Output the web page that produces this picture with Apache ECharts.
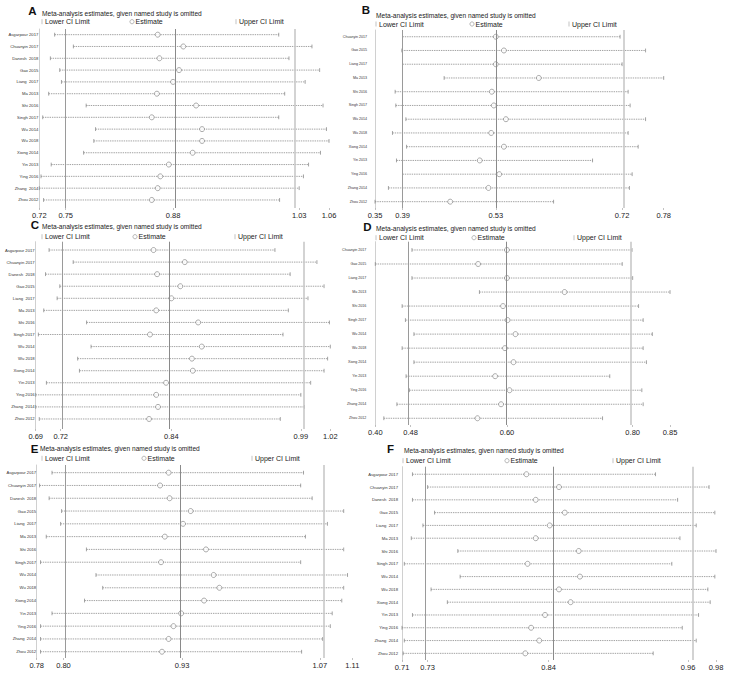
<!DOCTYPE html>
<html><head><meta charset="utf-8">
<script src="https://cdn.jsdelivr.net/npm/echarts@6/dist/echarts.min.js"></script>
<style>html,body{margin:0;padding:0;background:#fff}#c{width:731px;height:681px}</style>
</head><body><div id="c"></div>
<script>
// ---------- DATA ----------
const studies15 = ["Asgarpour 2017","Chuanyin 2017","Danesh\u00a0 2018","Gao 2015","Liang\u00a0 2017","Ma 2013","Shi 2016","Singh 2017","Wu 2014","Wu 2018","Xiong 2014","Yin 2013","Ying 2016","Zhang\u00a0 2014","Zhou 2012"];
const studies13 = ["Chuanyin 2017","Gao 2015","Liang 2017","Ma 2013","Shi 2016","Singh 2017","Wu 2014","Wu 2018","Xiong 2014","Yin 2013","Ying 2016","Zhang 2014","Zhou 2012"];

const lowerA = [0.738,0.760,0.733,0.744,0.746,0.731,0.775,0.724,0.786,0.784,0.772,0.734,0.722,0.720,0.725];
const estA   = [0.859,0.889,0.861,0.884,0.877,0.858,0.904,0.852,0.911,0.911,0.900,0.872,0.862,0.859,0.852];
const upperA = [1.001,1.040,1.013,1.049,1.032,1.008,1.053,1.001,1.057,1.060,1.050,1.036,1.030,1.025,1.002];
const ticksA = [0.720,0.751,0.877,1.025,1.060];
const tickLabelsA = ["0.72","0.75","0.88","1.03","1.06"];

const lowerB = [0.391,0.390,0.391,0.453,0.380,0.381,0.396,0.376,0.397,0.382,0.391,0.370,0.350];
const estB   = [0.530,0.542,0.530,0.594,0.524,0.527,0.545,0.523,0.542,0.506,0.535,0.519,0.462];
const upperB = [0.715,0.753,0.718,0.780,0.727,0.730,0.753,0.727,0.742,0.674,0.733,0.729,0.616];
const ticksB = [0.350,0.391,0.530,0.718,0.780];
const tickLabelsB = ["0.35","0.39","0.53","0.72","0.78"];

const lowerC = [0.705,0.732,0.701,0.717,0.714,0.699,0.747,0.693,0.752,0.737,0.739,0.702,0.690,0.690,0.694];
const estC   = [0.822,0.857,0.826,0.852,0.842,0.825,0.872,0.818,0.876,0.865,0.866,0.836,0.825,0.827,0.817];
const upperC = [0.958,1.005,0.975,1.013,0.995,0.973,1.019,0.967,1.020,1.017,1.013,0.998,0.987,0.991,0.964];
const ticksC = [0.690,0.718,0.842,0.987,1.020];
const tickLabelsC = ["0.69","0.72","0.84","0.99","1.02"];

const lowerD = [0.456,0.400,0.456,0.559,0.441,0.446,0.459,0.441,0.459,0.447,0.452,0.433,0.413];
const estD   = [0.601,0.557,0.601,0.689,0.595,0.602,0.614,0.598,0.611,0.583,0.605,0.592,0.556];
const upperD = [0.792,0.777,0.793,0.850,0.802,0.809,0.823,0.809,0.814,0.758,0.807,0.809,0.747];
const ticksD = [0.400,0.454,0.601,0.793,0.850];
const tickLabelsD = ["0.40","0.48","0.60","0.80","0.85"];

const lowerE = [0.796,0.783,0.793,0.806,0.805,0.790,0.832,0.784,0.842,0.849,0.830,0.796,0.784,0.784,0.784];
const estE   = [0.918,0.909,0.919,0.941,0.933,0.914,0.957,0.910,0.965,0.971,0.955,0.931,0.923,0.918,0.911];
const upperE = [1.059,1.056,1.068,1.101,1.084,1.061,1.101,1.056,1.105,1.101,1.099,1.089,1.087,1.079,1.057];
const ticksE = [0.780,0.808,0.932,1.076,1.110];
const tickLabelsE = ["0.78","0.80","0.93","1.07","1.11"];

const lowerF = [0.719,0.732,0.719,0.738,0.728,0.718,0.758,0.712,0.760,0.735,0.749,0.719,0.710,0.712,0.711];
const estF   = [0.817,0.845,0.825,0.850,0.837,0.825,0.862,0.818,0.863,0.845,0.855,0.833,0.821,0.828,0.816];
const upperF = [0.928,0.974,0.947,0.979,0.963,0.949,0.980,0.942,0.979,0.973,0.975,0.965,0.951,0.963,0.926];
const ticksF = [0.710,0.732,0.836,0.956,0.980];
const tickLabelsF = ["0.71","0.73","0.84","0.96","0.98"];

const titleText = "Meta-analysis estimates, given named study is omitted";
const legendLabels = ["Lower CI Limit","Estimate","Upper CI Limit"];

// ---------- LAYOUT ----------
const panels = [
  {id:"A", studies:studies15, lower:lowerA, est:estA, upper:upperA, ticks:ticksA, tl:tickLabelsA,
   L:{left:39.3, top:29, width:289.7, height:179, yMin:0.52, yMax:15.68, letter:[32.5,10.5], title:[42,13], legY:21.7, legX:[42,132,236], yLabMargin:1, yLabSize:4.2}},
  {id:"B", studies:studies13, lower:lowerB, est:estB, upper:upperB, ticks:ticksB, tl:tickLabelsB,
   L:{left:375, top:30, width:288.7, height:178, yMin:0.51, yMax:13.46, letter:[366,10], title:[376,15], legY:24, legX:[376,472,569], yLabMargin:8, yLabSize:3.6}},
  {id:"C", studies:studies15, lower:lowerC, est:estC, upper:upperC, ticks:ticksC, tl:tickLabelsC,
   L:{left:35.7, top:241.7, width:294.6, height:187.3, yMin:0.31, yMax:15.83, letter:[35,225], title:[42,226.7], legY:236.7, legX:[42,135,235], yLabMargin:1, yLabSize:4.2}},
  {id:"D", studies:studies13, lower:lowerD, est:estD, upper:upperD, ticks:ticksD, tl:tickLabelsD,
   L:{left:375.3, top:241.7, width:294.7, height:183.3, yMin:0.41, yMax:13.48, letter:[367.5,226.5], title:[376,228], legY:237.7, legX:[376,474,574], yLabMargin:9, yLabSize:3.6}},
  {id:"E", studies:studies15, lower:lowerE, est:estE, upper:upperE, ticks:ticksE, tl:tickLabelsE,
   L:{left:36.7, top:465, width:315.6, height:193, yMin:0.40, yMax:15.49, letter:[34.5,448.5], title:[40,448.3], legY:458.3, legX:[42,144,252], yLabMargin:0.5, yLabSize:4.2}},
  {id:"F", studies:studies15, lower:lowerF, est:estF, upper:upperF, ticks:ticksF, tl:tickLabelsF,
   L:{left:402, top:466.7, width:314, height:193.3, yMin:0.41, yMax:15.52, letter:[390.5,449], title:[404,450.7], legY:460.7, legX:[403,507,613], yLabMargin:4, yLabSize:4.2}}
];

const FONT = '"Liberation Sans", Arial, Helvetica, sans-serif';
const GRAY = '#8c8c8c';

function ciRender(params, api){
  const y = api.value(2);
  const lo = api.coord([api.value(0), y]);
  const hi = api.coord([api.value(1), y]);
  const h = 1.9;
  return {type:'group', children:[
    {type:'line', shape:{x1:lo[0],y1:lo[1],x2:hi[0],y2:hi[1]}, style:{stroke:GRAY, lineWidth:0.8, lineDash:[1.4,0.9]}},
    {type:'line', shape:{x1:lo[0],y1:lo[1]-h,x2:lo[0],y2:lo[1]+h}, style:{stroke:GRAY, lineWidth:0.8}},
    {type:'line', shape:{x1:hi[0],y1:hi[1]-h,x2:hi[0],y2:hi[1]+h}, style:{stroke:GRAY, lineWidth:0.8}}
  ]};
}

const grids=[], xAxes=[], yAxes=[], series=[], graphics=[];
panels.forEach((p,i)=>{
  const L = p.L;
  grids.push({left:L.left, top:L.top, width:L.width, height:L.height});
  const ticks = p.ticks, tl = p.tl;
  xAxes.push({type:'value', gridIndex:i, min:ticks[0], max:ticks[4],
    axisLine:{show:false}, splitLine:{show:false},
    axisTick:{show:true, customValues:ticks, length:2, lineStyle:{color:'#999', width:0.6}},
    axisLabel:{customValues:ticks, margin:3, fontSize:7.5, fontFamily:FONT, color:'#222',
      formatter:(v)=>{let b=0,d=1e9;ticks.forEach((t,k)=>{const dd=Math.abs(t-v);if(dd<d){d=dd;b=k;}});return tl[b];}}
  });
  const n = p.studies.length;
  const rows = p.studies.map((s,k)=>k+1);
  yAxes.push({type:'value', gridIndex:i, inverse:true, min:L.yMin, max:L.yMax,
    axisLine:{show:true, lineStyle:{color:'#c4c4c4', width:0.8}}, axisTick:{show:false}, splitLine:{show:false},
    axisLabel:{customValues:rows, margin:L.yLabMargin, fontSize:L.yLabSize, fontFamily:FONT, color:'#333',
      formatter:(v)=>p.studies[Math.round(v)-1]}
  });
  // reference lines (lower CI, estimate, upper CI of pooled result)
  series.push({type:'scatter', xAxisIndex:i, yAxisIndex:i, data:[], z:1, silent:true,
    markLine:{silent:true, symbol:'none', label:{show:false},
      data:[
        {xAxis:ticks[1], lineStyle:{color:'#9a9a9a', width:1, type:'solid'}},
        {xAxis:ticks[2], lineStyle:{color:'#8a8a8a', width:1, type:'solid'}},
        {xAxis:ticks[3], lineStyle:{color:'#c8c8c8', width:1.6, type:'solid'}}
      ]}
  });
  series.push({type:'custom', xAxisIndex:i, yAxisIndex:i, z:2, silent:true,
    renderItem:ciRender, encode:{x:[0,1], y:2},
    data:p.studies.map((s,k)=>[p.lower[k], p.upper[k], k+1])});
  series.push({type:'scatter', xAxisIndex:i, yAxisIndex:i, z:3, silent:true,
    symbol:'circle', symbolSize:5,
    itemStyle:{color:'#ffffff', borderColor:'#7a7a7a', borderWidth:0.8},
    data:p.est.map((v,k)=>[v, k+1])});

  // panel letter, title, legend
  graphics.push({type:'text', x:L.letter[0], y:L.letter[1], style:{text:p.id, font:'bold 11.5px '+FONT, fill:'#111', textAlign:'center', textVerticalAlign:'middle'}});
  graphics.push({type:'text', x:L.title[0], y:L.title[1], style:{text:titleText, font:'6.6px '+FONT, fill:'#222', textAlign:'left', textVerticalAlign:'middle'}});
  const ly = L.legY;
  graphics.push({type:'line', shape:{x1:L.legX[0], y1:ly-2.5, x2:L.legX[0], y2:ly+2.5}, style:{stroke:'#aaa', lineWidth:0.7}});
  graphics.push({type:'text', x:L.legX[0]+3, y:ly, style:{text:legendLabels[0], font:'7px '+FONT, fill:'#222', textAlign:'left', textVerticalAlign:'middle'}});
  graphics.push({type:'circle', shape:{cx:L.legX[1], cy:ly, r:2.1}, style:{fill:'none', stroke:'#888', lineWidth:0.6}});
  graphics.push({type:'text', x:L.legX[1]+3.5, y:ly, style:{text:legendLabels[1], font:'7px '+FONT, fill:'#222', textAlign:'left', textVerticalAlign:'middle'}});
  graphics.push({type:'line', shape:{x1:L.legX[2], y1:ly-2.5, x2:L.legX[2], y2:ly+2.5}, style:{stroke:'#aaa', lineWidth:0.7}});
  graphics.push({type:'text', x:L.legX[2]+3, y:ly, style:{text:legendLabels[2], font:'7px '+FONT, fill:'#222', textAlign:'left', textVerticalAlign:'middle'}});
});

const chart = echarts.init(document.getElementById('c'), null, {renderer:'svg', width:731, height:681});
chart.setOption({
  animation:false, backgroundColor:'#ffffff',
  grid:grids, xAxis:xAxes, yAxis:yAxes, series:series, graphic:{elements:graphics}
});
</script></body></html>
